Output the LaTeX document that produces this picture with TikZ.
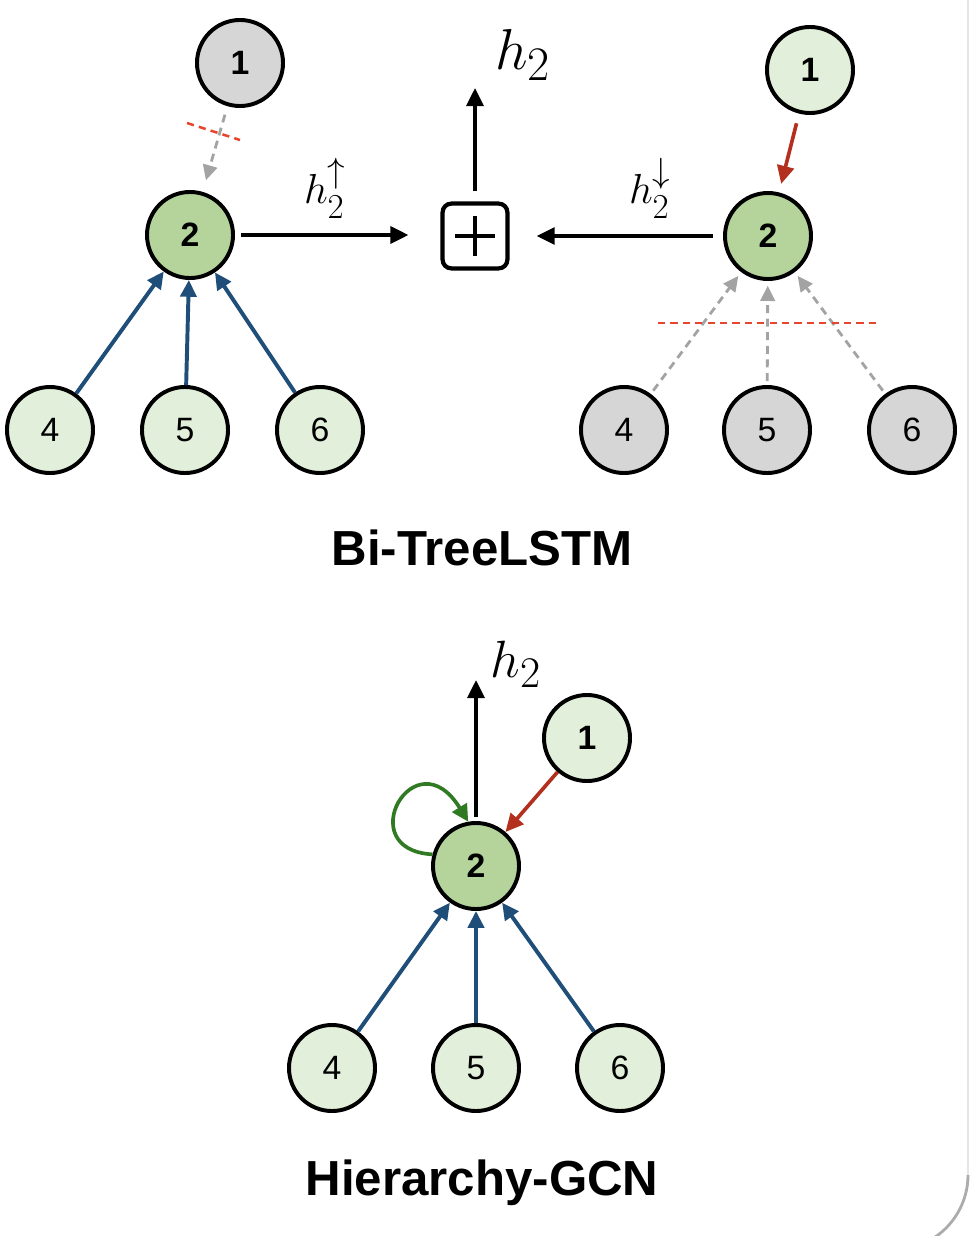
\documentclass[tikz,border=0pt]{standalone}
\usepackage{fontspec}
\setmainfont{Liberation Sans}
\usepackage{amsmath}
\usetikzlibrary{arrows.meta}
\definecolor{leafgreen}{HTML}{E2EFDA}
\definecolor{rootgreen}{HTML}{B4D49C}
\definecolor{mutegray}{HTML}{D6D6D6}
\definecolor{edgeblue}{HTML}{1F4E79}
\definecolor{edgered}{HTML}{B3301F}
\definecolor{cutred}{HTML}{E8452F}
\definecolor{loopgreen}{HTML}{2F7A22}
\definecolor{dashgray}{HTML}{A3A3A3}

\begin{document}
\begin{tikzpicture}[
  x=0.025cm, y=-0.025cm,
  tnode/.style={circle, draw=black, line width=2.8pt, minimum size=2.15cm, inner sep=0pt, font=\fontsize{24}{26}\selectfont},
  strong/.style={font=\fontsize{24}{26}\selectfont\bfseries},
  leaf/.style={tnode, fill=leafgreen},
  mute/.style={tnode, fill=mutegray},
  root/.style={tnode, strong, fill=rootgreen},
  arr/.style={-{Triangle[length=0.45cm, width=0.42cm]}, line width=2.6pt},
  blue/.style={-{Triangle[length=0.42cm, width=0.4cm]}, line width=2.8pt, edgeblue},
  redarr/.style={-{Triangle[length=0.45cm, width=0.42cm]}, line width=2.6pt, edgered},
  grayarr/.style={-{Triangle[length=0.38cm, width=0.36cm]}, line width=2pt, dashgray, dash pattern=on 0.2cm off 0.14cm},
  cut/.style={line width=1.8pt, cutred, dash pattern=on 0.18cm off 0.13cm},
  lbl/.style={inner sep=0pt, font=\Huge},
  title/.style={font=\fontsize{35}{40}\selectfont\bfseries}
]
  \useasboundingbox (0,0) rectangle (970,1236);
  % faint edge of a neighbouring frame
  \draw[gray!20, line width=1pt] (968,-5) -- (968,1175);
  \draw[gray!65, line width=2pt] (968,1175) arc[start angle=0, end angle=60, radius=75];

  % ---- Bi-TreeLSTM, bottom-up tree ----
  \node[mute, strong] (l1) at (240,63) {1};
  \node[root] (l2) at (190,235) {2};
  \node[leaf] (l4) at (50,430) {4};
  \node[leaf] (l5) at (185,430) {5};
  \node[leaf] (l6) at (320,430) {6};
  \draw[grayarr, shorten <=0.22cm, shorten >=0.3cm] (l1) -- (l2);
  \coordinate (lcutA) at (187,123);
  \coordinate (lcutB) at (240,140);
  \draw[cut] (lcutA) -- (lcutB);
  \draw[blue] (l4) -- (l2);
  \draw[blue] (l5) -- (l2);
  \draw[blue] (l6) -- (l2);

  % ---- combination ----
  \node[draw, line width=3pt, rounded corners=0.22cm, minimum size=1.62cm] (plus) at (475,236) {};
  \draw[line width=2.8pt] ([xshift=-0.49cm]plus.center) -- ([xshift=0.49cm]plus.center);
  \draw[line width=2.8pt] ([yshift=-0.49cm]plus.center) -- ([yshift=0.49cm]plus.center);
  \coordinate (topout) at (475,88);
  \node[lbl, scale=1.65] (htop) at (523,55) {$h_2$};
  \draw[arr, shorten <=0.25cm] (plus.north) -- (topout);

  % ---- Bi-TreeLSTM, top-down tree ----
  \node[leaf, strong] (r1) at (810,70) {1};
  \node[root] (r2) at (768,236) {2};
  \node[mute] (r4) at (624,430) {4};
  \node[mute] (r5) at (767,430) {5};
  \node[mute] (r6) at (912,430) {6};
  \draw[redarr, shorten <=0.25cm, shorten >=0.22cm] (r1) -- (r2);
  \draw[grayarr, shorten <=0.1cm, shorten >=0.12cm] (r4) -- (r2);
  \draw[grayarr, shorten <=0.1cm, shorten >=0.12cm] (r5) -- (r2);
  \draw[grayarr, shorten <=0.1cm, shorten >=0.12cm] (r6) -- (r2);
  \coordinate (rcutA) at (658,323);
  \coordinate (rcutB) at (880,323);
  \draw[cut] (rcutA) -- (rcutB);

  \draw[arr, shorten <=0.15cm, shorten >=0.8cm] (l2.east) -- (l2.east -| plus.west);
  \node[lbl, scale=1.2] (hup) at (325,188) {$h_2^{\uparrow}$};
  \draw[arr, shorten <=0.25cm, shorten >=0.68cm] (r2.west) -- (r2.west -| plus.east);
  \node[lbl, scale=1.2] (hdown) at (650,188) {$h_2^{\downarrow}$};

  \node[title] (tree) at (482,548) {Bi-TreeLSTM};

  % ---- Hierarchy-GCN ----
  \node[leaf, strong] (g1) at (587,738) {1};
  \node[root] (g2) at (476,866) {2};
  \node[leaf] (g4) at (332,1068) {4};
  \node[leaf] (g5) at (476,1068) {5};
  \node[leaf] (g6) at (620,1068) {6};
  \coordinate (gout) at (476,680);
  \draw[arr, shorten <=0.1cm] (g2.north) -- (gout);
  \node[lbl, scale=1.5] (hgcn) at (516,664) {$h_2$};
  \draw[redarr] (g1) -- (g2);
  \draw[-{Triangle[length=0.42cm, width=0.42cm]}, line width=2.6pt, loopgreen]
    (g2.165) .. controls (350,850) and (415,735) .. (g2.100);
  \draw[blue] (g4) -- (g2);
  \draw[blue] (g5) -- (g2);
  \draw[blue] (g6) -- (g2);

  \node[title] (gcn) at (482,1183) {Hierarchy-GCN};
\end{tikzpicture}
\end{document}
